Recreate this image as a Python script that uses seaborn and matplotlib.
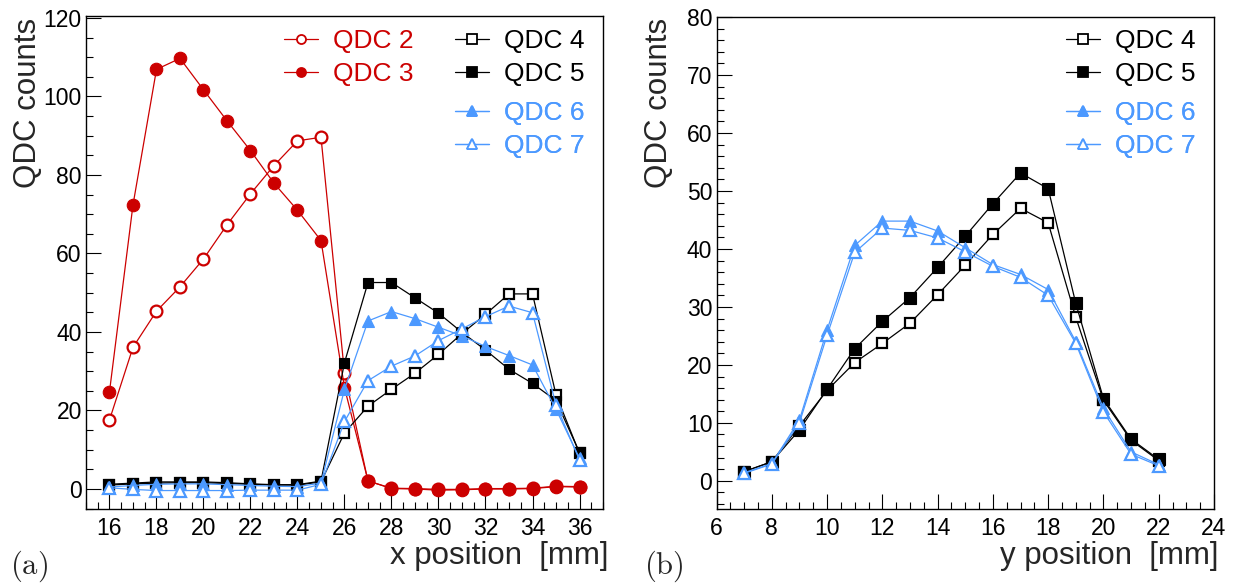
import matplotlib
matplotlib.use("Agg")
import matplotlib.pyplot as plt
from matplotlib.lines import Line2D
from matplotlib.ticker import MultipleLocator
import seaborn as sns
import pandas as pd

# ---------------- data ----------------
x_a = list(range(16, 37))
qdc2_a = [17.6, 36.1, 45.3, 51.5, 58.6, 67.3, 75.2, 82.4, 88.7, 89.6, 29.5,
          2.0, 0.2, 0.1, -0.1, -0.1, 0.1, 0.1, 0.2, 0.7, 0.6]
qdc3_a = [24.8, 72.4, 106.9, 109.7, 101.7, 93.8, 86.2, 77.9, 71.0, 63.3, 25.8,
          2.1, 0.1, 0.0, -0.3, -0.2, 0.0, 0.0, 0.1, 0.6, 0.5]
qdc4_a = [1.0, 1.3, 1.5, 1.6, 1.6, 1.4, 1.2, 1.0, 1.0, 1.8, 14.3,
          21.1, 25.4, 29.5, 34.3, 39.6, 44.5, 49.7, 49.7, 24.0, 9.1]
qdc5_a = [1.2, 1.5, 1.8, 1.8, 1.8, 1.6, 1.3, 1.1, 1.1, 2.0, 32.2,
          52.6, 52.6, 48.7, 44.8, 39.9, 35.4, 30.5, 26.9, 22.5, 9.3]
qdc6_a = [0.5, 0.9, 1.2, 1.3, 1.3, 1.1, 0.9, 0.7, 0.6, 1.5, 25.4,
          42.8, 45.2, 43.4, 41.2, 39.0, 36.3, 34.0, 31.6, 20.3, 7.8]
qdc7_a = [0.3, -0.1, -0.4, -0.4, -0.4, -0.4, -0.3, -0.3, -0.3, 1.2, 17.2,
          27.6, 31.3, 33.9, 37.8, 40.8, 43.9, 46.6, 44.9, 21.4, 7.4]

x_b = list(range(7, 23))
qdc4_b = [1.6, 3.3, 9.5, 15.6, 20.4, 23.7, 27.2, 32.1, 37.2, 42.5, 47.0, 44.5, 28.2, 13.9, 7.0, 3.5]
qdc5_b = [1.6, 3.3, 8.8, 15.8, 22.8, 27.5, 31.6, 36.8, 42.2, 47.8, 53.1, 50.4, 30.6, 14.2, 7.2, 3.7]
qdc6_b = [1.4, 3.0, 10.5, 26.0, 40.6, 44.8, 44.8, 43.1, 40.2, 37.3, 35.6, 33.0, 24.0, 12.5, 5.0, 2.8]
qdc7_b = [1.3, 2.9, 10.0, 25.1, 39.4, 43.6, 43.2, 41.9, 39.5, 37.0, 35.1, 32.0, 23.7, 11.9, 4.6, 2.6]

labels_red = ["QDC 2", "QDC 3"]
labels_black = ["QDC 4", "QDC 5"]
labels_blue = ["QDC 6", "QDC 7"]

RED = "#CC0000"
BLUE = "#4C99FF"
BLACK = "#000000"

# ---------------- style ----------------
sns.set_style("ticks")
plt.rcParams["font.family"] = ["Liberation Sans", "DejaVu Sans"]
plt.rcParams["mathtext.fontset"] = "cm"

fig = plt.figure(figsize=(12.41, 5.83), dpi=100)
W, H = 1241, 583
ax_a = fig.add_axes([86 / W, 1 - 509 / H, (603 - 86) / W, (509 - 16) / H])
ax_b = fig.add_axes([716.5 / W, 1 - 509 / H, (1214 - 716.5) / W, (509 - 17) / H])


def draw(ax, x, y, color, marker, filled, ms):
    df = pd.DataFrame({"x": x, "y": y})
    sns.lineplot(data=df, x="x", y="y", ax=ax, color=color, lw=0.9,
                 marker=marker, markersize=ms,
                 markerfacecolor=color if filled else "white",
                 markeredgecolor=color, markeredgewidth=1.6 if not filled else 0.8,
                 errorbar=None, sort=False)

# panel (a)
draw(ax_a, x_a, qdc2_a, RED, "o", False, 8.5)
draw(ax_a, x_a, qdc3_a, RED, "o", True, 9.0)
draw(ax_a, x_a, qdc4_a, BLACK, "s", False, 7.0)
draw(ax_a, x_a, qdc5_a, BLACK, "s", True, 7.5)
draw(ax_a, x_a, qdc6_a, BLUE, "^", True, 8.5)
draw(ax_a, x_a, qdc7_a, BLUE, "^", False, 8.0)

# panel (b)
draw(ax_b, x_b, qdc4_b, BLACK, "s", False, 7.5)
draw(ax_b, x_b, qdc5_b, BLACK, "s", True, 8.0)
draw(ax_b, x_b, qdc6_b, BLUE, "^", True, 9.0)
draw(ax_b, x_b, qdc7_b, BLUE, "^", False, 8.5)

# axes formatting
ax_a.set_xlim(15, 37)
ax_a.set_ylim(-5.1, 120.5)
ax_a.xaxis.set_major_locator(MultipleLocator(2))
ax_a.xaxis.set_minor_locator(MultipleLocator(0.5))
ax_a.yaxis.set_major_locator(MultipleLocator(20))
ax_a.yaxis.set_minor_locator(MultipleLocator(5))
ax_a.set_xticks(range(16, 37, 2))

ax_b.set_xlim(6, 24)
ax_b.set_ylim(-4.85, 80)
ax_b.xaxis.set_major_locator(MultipleLocator(2))
ax_b.xaxis.set_minor_locator(MultipleLocator(0.5))
ax_b.yaxis.set_major_locator(MultipleLocator(10))
ax_b.yaxis.set_minor_locator(MultipleLocator(2))

for ax in (ax_a, ax_b):
    ax.set_xlabel("")
    ax.set_ylabel("")
    for s in ax.spines.values():
        s.set_visible(True)
        s.set_linewidth(1.0)
        s.set_color("black")
    ax.tick_params(which="both", direction="in", top=False, right=False,
                   labelsize=16.5, colors="black")
    ax.tick_params(which="major", length=10.5, width=0.8)
    ax.tick_params(which="minor", length=5.2, width=0.8)
    ax.tick_params(axis="x", which="both", pad=6)
    ax.tick_params(axis="y", which="both", pad=3)
    ax.grid(False)
    ax.set_facecolor("white")

# axis titles
fig.text(28 / W, 1 - 18 / H, "QDC counts", rotation=90, ha="center", va="top", fontsize=22.5)
fig.text(659 / W, 1 - 18 / H, "QDC counts", rotation=90, ha="center", va="top", fontsize=22.5)
fig.text(608 / W, 1 - 556 / H, "x position  [mm]", ha="right", va="center", fontsize=22.5)
fig.text(1219 / W, 1 - 556 / H, "y position  [mm]", ha="right", va="center", fontsize=22.5)
fig.text(10 / W, 1 - 566 / H, r"$\mathrm{(a)}$", ha="left", va="center", fontsize=22)
fig.text(644 / W, 1 - 566 / H, r"$\mathrm{(b)}$", ha="left", va="center", fontsize=22)


def handles(color, specs):
    hs = []
    for marker, filled in specs:
        hs.append(Line2D([], [], color=color, lw=0.9, marker=marker, markersize=6.5,
                         markerfacecolor=color if filled else "white",
                         markeredgecolor=color, markeredgewidth=1.3))
    return hs


def add_legend(ax, hs, labels, color, xpx, ypx):
    bb = ax.get_position()
    fx, fy = xpx / W, 1 - ypx / H
    ax_x = (fx - bb.x0) / bb.width
    ax_y = (fy - bb.y0) / bb.height
    leg = ax.legend(hs, labels, loc="upper left", bbox_to_anchor=(ax_x, ax_y),
                    frameon=False, fontsize=19, handlelength=1.3, handletextpad=0.55,
                    labelspacing=0.35, borderpad=0, borderaxespad=0)
    for t in leg.get_texts():
        t.set_color(color)
    ax.add_artist(leg)
    return leg

add_legend(ax_a, handles(RED, [("o", False), ("o", True)]), labels_red, RED, 284, 29)
add_legend(ax_a, handles(BLACK, [("s", False), ("s", True)]), labels_black, BLACK, 455, 29)
add_legend(ax_a, handles(BLUE, [("^", True), ("^", False)]), labels_blue, BLUE, 455, 101)
add_legend(ax_b, handles(BLACK, [("s", False), ("s", True)]), labels_black, BLACK, 1066, 29)
add_legend(ax_b, handles(BLUE, [("^", True), ("^", False)]), labels_blue, BLUE, 1066, 101)

fig.savefig("out.png", dpi=100, facecolor="white")
